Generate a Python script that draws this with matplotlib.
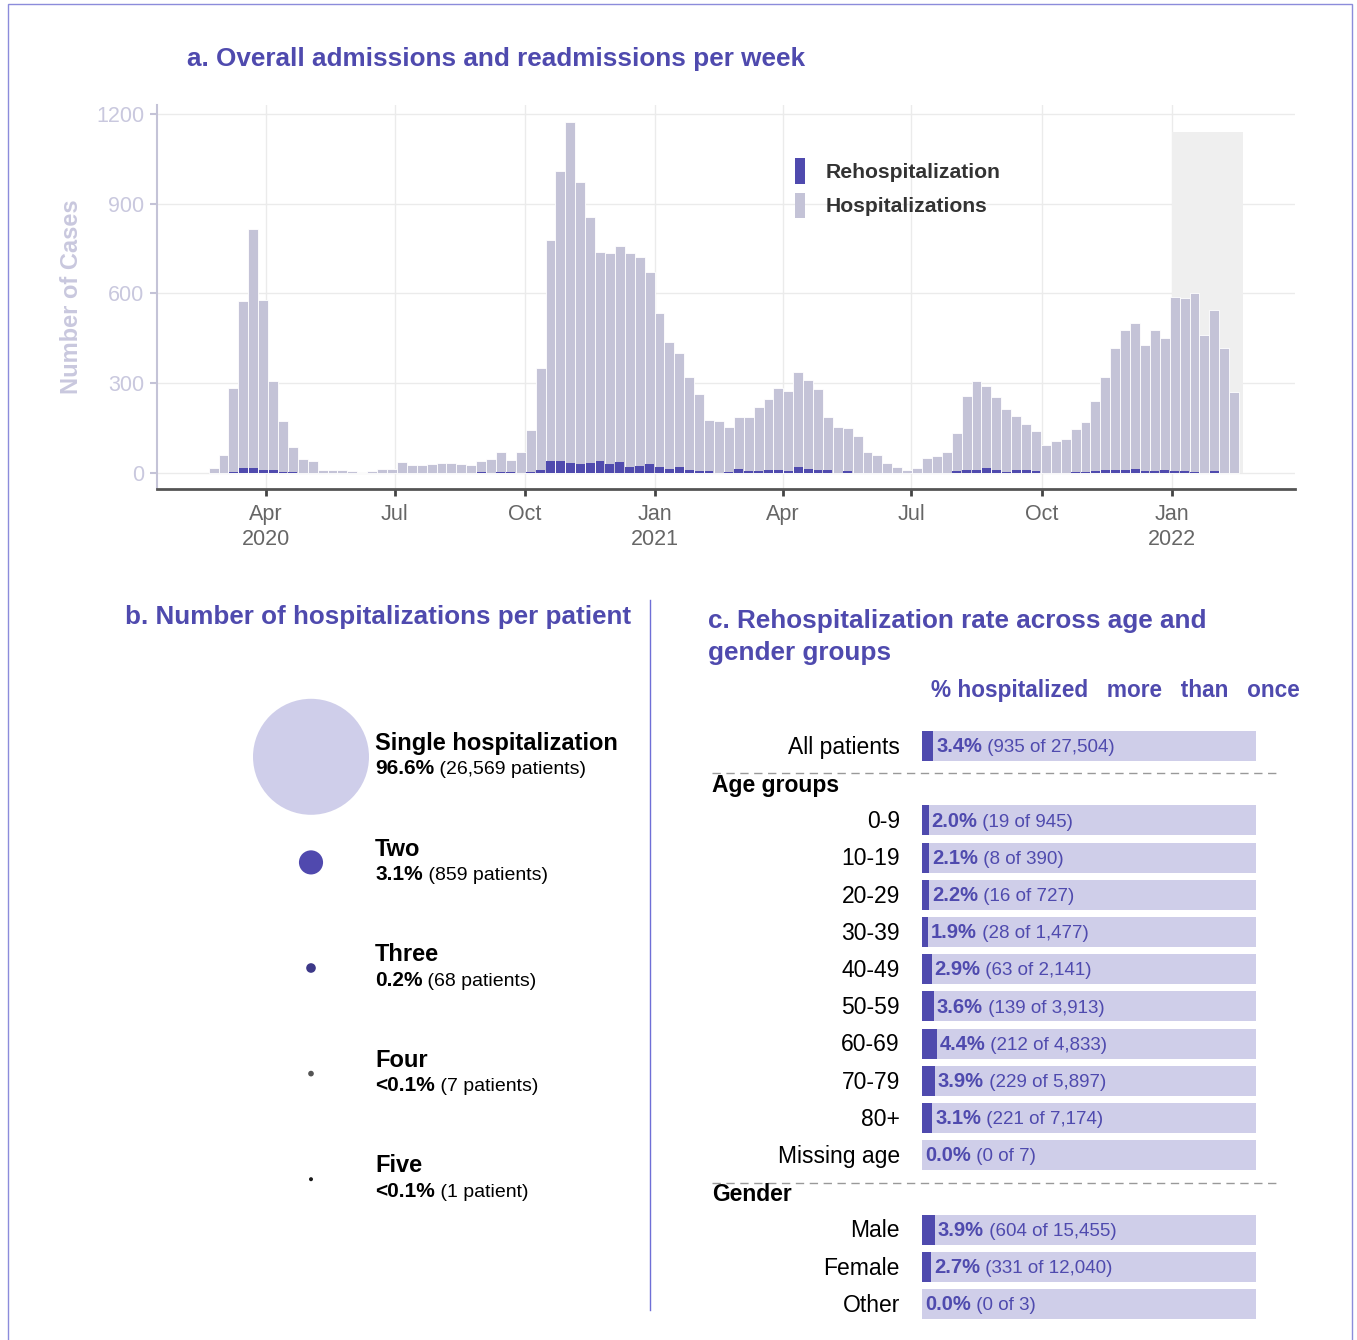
import numpy as np
import pandas as pd
import matplotlib
matplotlib.use('Agg')
import matplotlib.pyplot as plt
from matplotlib.patches import Patch, Rectangle

plt.rcParams['font.family'] = 'Liberation Sans'

# ---------------------------------------------------------------------------
# data
# ---------------------------------------------------------------------------
first_week = '2020-02-24'
hosp = [15, 60, 285, 575, 815, 577, 308, 174, 85, 46,
        40, 11, 8, 8, 6, 1, 5, 12, 12, 35,
        26, 26, 31, 33, 34, 28, 26, 40, 46, 71,
        44, 70, 142, 352, 779, 1008, 1174, 974, 857, 740,
        734, 759, 736, 721, 670, 536, 437, 400, 320, 262,
        178, 173, 152, 186, 188, 219, 246, 283, 273, 337,
        310, 280, 188, 152, 150, 123, 71, 60, 33, 21,
        8, 17, 50, 58, 71, 134, 258, 306, 292, 253,
        212, 191, 165, 141, 94, 105, 114, 148, 171, 241,
        322, 419, 477, 501, 427, 477, 452, 588, 586, 603,
        461, 546, 419, 269]
rehosp = [0, 0, 4, 17, 17, 9, 9, 4, 2, 0,
          0, 0, 0, 0, 0, 0, 0, 0, 0, 0,
          0, 0, 0, 0, 0, 0, 0, 3, 0, 2,
          3, 0, 4, 11, 38, 39, 33, 31, 33, 39,
          31, 37, 20, 24, 28, 21, 13, 20, 9, 7,
          7, 1, 4, 13, 7, 7, 11, 10, 7, 18,
          14, 11, 8, 1, 5, 0, 0, 0, 0, 0,
          0, 1, 0, 0, 0, 7, 8, 10, 17, 10,
          3, 10, 8, 5, 1, 1, 1, 4, 4, 5,
          11, 10, 8, 12, 5, 5, 8, 7, 5, 4,
          1, 5, 0, 0]
shade_start, shade_end, shade_top = '2022-01-01', '2022-02-20', 1140

tick_dates = ['2020-04-01', '2020-07-01', '2020-10-01', '2021-01-01',
              '2021-04-01', '2021-07-01', '2021-10-01', '2022-01-01']
tick_labels = ['Apr\n2020', 'Jul', 'Oct', 'Jan\n2021', 'Apr', 'Jul', 'Oct', 'Jan\n2022']

count_names = ['Single hospitalization', 'Two', 'Three', 'Four', 'Five']
count_pct = ['96.6%', '3.1%', '0.2%', '<0.1%', '<0.1%']
count_n = [26569, 859, 68, 7, 1]
count_colors = ['#CFCEEA', '#5049AE', '#3D3988', '#555555', '#1A1A1A']

all_label = 'All patients'
all_pct, all_num, all_den = 3.4, 935, 27504
age_groups = ['0-9', '10-19', '20-29', '30-39', '40-49', '50-59',
              '60-69', '70-79', '80+', 'Missing age']
age_pct = [2.0, 2.1, 2.2, 1.9, 2.9, 3.6, 4.4, 3.9, 3.1, 0.0]
age_num = [19, 8, 16, 28, 63, 139, 212, 229, 221, 0]
age_den = [945, 390, 727, 1477, 2141, 3913, 4833, 5897, 7174, 7]
genders = ['Male', 'Female', 'Other']
gender_pct = [3.9, 2.7, 0.0]
gender_num = [604, 331, 0]
gender_den = [15455, 12040, 3]

# ---------------------------------------------------------------------------
# styling
# ---------------------------------------------------------------------------
PURPLE = '#4F4AAE'
LAV = '#C4C3D7'
LAV_TXT = '#C9C8DE'
LIGHT_BAR = '#CFCEE9'

W, H = 1357, 1340
fig = plt.figure(figsize=(W / 100, H / 100), dpi=100)


def px_axes(x0, y0, x1, y1):
    return fig.add_axes([x0 / W, 1 - y1 / H, (x1 - x0) / W, (y1 - y0) / H])


# outer frame
fig.add_artist(Rectangle((8 / W, -0.01), (1352 - 8) / W, 1.01 - 4 / H,
                         transform=fig.transFigure, fill=False,
                         edgecolor='#8C8CDB', lw=1))

# ---------------------------------------------------------------------------
# a. weekly admissions
# ---------------------------------------------------------------------------
ax = px_axes(157, 105, 1295, 489)
weeks = pd.date_range(first_week, periods=len(hosp), freq='7D')

ax.fill_between(pd.to_datetime([shade_start, shade_end]), 0, shade_top,
                color='#EFEFEF', lw=0, zorder=1)
ax.bar(weeks, hosp, width=7, color=LAV, edgecolor='white', linewidth=0.6, zorder=2)
ax.bar(weeks, rehosp, width=6.3, color=PURPLE, linewidth=0, zorder=3)

ax.set_xlim(pd.Timestamp('2020-01-15'), pd.Timestamp('2022-03-29'))
ax.set_ylim(-54, 1230)
ax.set_xticks(pd.to_datetime(tick_dates))
ax.set_xticklabels(tick_labels)
ax.set_yticks([0, 300, 600, 900, 1200])
ax.grid(color='#EBEBEB', lw=1)
ax.set_axisbelow(True)
for s in ['top', 'right']:
    ax.spines[s].set_visible(False)
ax.spines['left'].set_color(LAV)
ax.spines['left'].set_linewidth(1.5)
ax.spines['bottom'].set_color('#555555')
ax.spines['bottom'].set_linewidth(2)
ax.tick_params(axis='y', colors=LAV, labelcolor=LAV_TXT, length=5, width=1.5,
               labelsize=15.5, pad=4)
ax.tick_params(axis='x', colors='#444444', labelcolor='#666666', length=5, width=2,
               labelsize=15.5, pad=5.5)
for lab in ax.get_xticklabels():
    lab.set_linespacing(1.25)

fig.text(72 / W, 1 - 297 / H, 'Number of Cases', rotation=90, ha='center', va='center',
         fontsize=17, fontweight='bold', color=LAV_TXT)
fig.text(187 / W, 1 - 59 / H, 'a. Overall admissions and readmissions per week',
         ha='left', va='center', fontsize=18.8, fontweight='bold', color=PURPLE)

handles = [Patch(facecolor=PURPLE, label='Rehospitalization'),
           Patch(facecolor=LAV, label='Hospitalizations')]
leg = fig.legend(handles=handles, loc='upper left',
                 bbox_to_anchor=(795 / W, 1 - 158 / H), frameon=False,
                 prop={'size': 15.2, 'weight': 'bold'},
                 handlelength=0.48, handleheight=1.5, handletextpad=0.95,
                 labelspacing=0.42, borderpad=0, borderaxespad=0)
for t in leg.get_texts():
    t.set_color('#333333')

# ---------------------------------------------------------------------------
# b. hospitalizations per patient
# ---------------------------------------------------------------------------
fig.text(125 / W, 1 - 617 / H, 'b. Number of hospitalizations per patient',
         ha='left', va='center', fontsize=18.7, fontweight='bold', color=PURPLE)
fig.add_artist(plt.Line2D([650 / W, 650 / W], [1 - 600 / H, 1 - 1310 / H],
                          transform=fig.transFigure, color='#6F6FD6', lw=1))

axb = px_axes(100, 704, 640, 1232)
axb.set_xlim(0, 540)
axb.set_ylim(len(count_n) - 0.5, -0.5)
axb.axis('off')

n_arr = np.array(count_n, dtype=float)
diam_px = 4 + 112 * np.sqrt((n_arr - n_arr.min()) / (n_arr.max() - n_arr.min()))
sizes = (diam_px * 0.72) ** 2
ypos_b = np.arange(len(count_n))
axb.scatter(np.full(len(count_n), 211), ypos_b, s=sizes, c=count_colors, lw=0,
            clip_on=False)

for i, (name, pct, n) in enumerate(zip(count_names, count_pct, count_n)):
    axb.text(275, i - 0.125, name, ha='left', va='center', fontsize=17,
             fontweight='bold', color='black')
    t1 = axb.text(275, i + 0.115, pct, ha='left', va='center', fontsize=15,
                  fontweight='bold', color='black')
    word = 'patient' if n == 1 else 'patients'
    axb.annotate(f' ({n:,} {word})', xy=(1, 0), xycoords=t1, ha='left', va='bottom',
                 fontsize=14, color='black')

# ---------------------------------------------------------------------------
# c. rehospitalization rate per group
# ---------------------------------------------------------------------------
fig.text(708 / W, 1 - 637 / H, 'c. Rehospitalization rate across age and\ngender groups',
         ha='left', va='center', fontsize=18.8, fontweight='bold', color=PURPLE,
         linespacing=1.45)
fig.text(931 / W, 1 - 690 / H, '% hospitalized   more   than   once', ha='left',
         va='center', fontsize=16.3, fontweight='bold', color=PURPLE)

axc = px_axes(700, 715, 1300, 1325)
axc.set_xlim((700 - 922) / 3.34, (1300 - 922) / 3.34)
axc.set_ylim(15.565, -0.833)
axc.axis('off')

labels = [all_label] + age_groups + genders
pcts = [all_pct] + age_pct + gender_pct
nums = [all_num] + age_num + gender_num
dens = [all_den] + age_den + gender_den
ypos = [0] + list(range(2, 2 + len(age_groups))) + \
       list(range(3 + len(age_groups), 3 + len(age_groups) + len(genders)))

axc.barh(ypos, [100] * len(ypos), height=0.81, color=LIGHT_BAR, lw=0)
axc.barh(ypos, pcts, height=0.81, color=PURPLE, lw=0)

for y, lab, p, num, den in zip(ypos, labels, pcts, nums, dens):
    axc.annotate(lab, xy=(0, y), xytext=(-16, -1), textcoords='offset points',
                 ha='right', va='center', fontsize=16.5, color='black')
    t1 = axc.annotate(f'{p:.1f}%', xy=(p, y), xytext=(2, -0.5), textcoords='offset points',
                      ha='left', va='center', fontsize=14.5, fontweight='bold',
                      color=PURPLE)
    axc.annotate(f' ({num:,} of {den:,})', xy=(1, 0), xycoords=t1, ha='left',
                 va='bottom', fontsize=13.5, color=PURPLE)

tr = axc.get_yaxis_transform()
for yl in [0.73, 2 + len(age_groups) - 0.25]:
    axc.plot([0.02, 0.963], [yl, yl], transform=tr, color='#999999', lw=1,
             dashes=(6, 4))
axc.text(0.02, 1.07, 'Age groups', transform=tr, ha='left', va='center',
         fontsize=16.5, fontweight='bold', color='black')
axc.text(0.02, 2 + len(age_groups) + 0.05, 'Gender', transform=tr, ha='left',
         va='center', fontsize=16.5, fontweight='bold', color='black')

fig.savefig('out.png', dpi=100)
